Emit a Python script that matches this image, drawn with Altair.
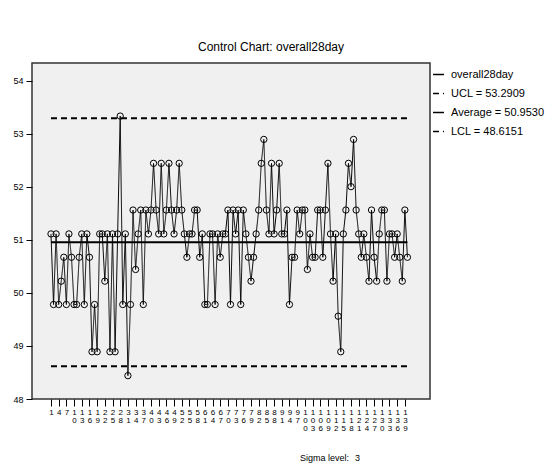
import altair as alt
import pandas as pd

# ---- data ----
values = [
    51.11, 49.78, 51.11, 49.78, 50.22, 50.67, 49.78, 51.11, 50.67, 49.78,
    49.78, 50.67, 51.11, 49.78, 51.11, 50.67, 48.89, 49.78, 48.89, 51.11,
    51.11, 50.22, 51.11, 48.89, 51.11, 48.89, 51.11, 53.33, 49.78, 51.11,
    48.44, 49.78, 51.56, 50.44, 51.11, 51.56, 49.78, 51.56, 51.11, 51.56,
    52.44, 51.56, 51.11, 52.44, 51.11, 51.56, 52.44, 51.56, 51.11, 51.56,
    52.44, 51.56, 51.11, 50.67, 51.11, 51.11, 51.56, 51.56, 50.67, 51.11,
    49.78, 49.78, 51.11, 51.11, 49.78, 51.11, 50.67, 51.11, 51.11, 51.56,
    49.78, 51.56, 51.11, 51.56, 49.78, 51.56, 51.11, 50.67, 50.22, 50.67,
    51.11, 51.56, 52.44, 52.89, 51.56, 51.11, 52.44, 51.11, 51.56, 52.44,
    51.11, 51.11, 51.56, 49.78, 50.67, 50.67, 51.56, 51.11, 51.56, 51.56,
    50.44, 51.11, 50.67, 50.67, 51.56, 51.56, 50.67, 51.56, 52.44, 51.11,
    50.22, 51.11, 49.56, 48.89, 51.11, 51.56, 52.44, 52.00, 52.89, 51.56,
    51.11, 50.67, 51.11, 50.67, 50.22, 51.56, 50.67, 50.22, 51.11, 51.56,
    51.56, 50.22, 51.11, 51.11, 50.67, 51.11, 50.67, 50.22, 51.56, 50.67,
]
index = list(range(1, len(values) + 1))
series_name = "overall28day"
ucl = 53.2909
avg = 50.9530
lcl = 48.6151
limit_labels = ["UCL = 53.2909", "Average = 50.9530", "LCL = 48.6151"]
limit_values = [ucl, avg, lcl]
x_tick_values = list(range(1, 140, 3))
y_tick_values = list(range(48, 55))
title_text = "Control Chart: overall28day"
sigma_label = "Sigma level:"
sigma_value = "3"

FONT = "Liberation Sans"

df = pd.DataFrame({"idx": index, "value": values, "series": series_name})
limits = pd.DataFrame({
    "idx": [index[0], index[-1]] * len(limit_values),
    "value": [v for v in limit_values for _ in range(2)],
    "series": [lab for lab in limit_labels for _ in range(2)],
})
domain_order = [series_name] + limit_labels
dash_range = [[1, 0], [6, 4], [1, 0], [6, 4]]

x_enc = alt.X(
    "idx:Q",
    scale=alt.Scale(domain=[-6.4, 148.8], nice=False, zero=False),
    axis=alt.Axis(
        values=x_tick_values, title=None, grid=False, domain=False,
        tickSize=7, tickColor="black", format="d",
        labelExpr="split(datum.label, '')", labelFontSize=8,
        labelLineHeight=8, labelPadding=2, labelFont=FONT,
        labelColor="black", labelAngle=0, labelOverlap=False,
        labelBound=False, labelFlush=False,
    ),
)
y_enc = alt.Y(
    "value:Q",
    scale=alt.Scale(domain=[48, 54.33], nice=False, zero=False),
    axis=alt.Axis(
        values=y_tick_values, title=None, grid=False, domain=False,
        tickSize=6, tickColor="black", labelFontSize=9, labelPadding=3,
        labelFont=FONT, labelColor="black", format="d",
        labelOverlap=False,
    ),
)
dash_enc = alt.StrokeDash(
    "series:N",
    scale=alt.Scale(domain=domain_order, range=dash_range),
    legend=alt.Legend(
        title=None, orient="none", legendX=400, legendY=5,
        symbolType="stroke", symbolStrokeColor="black",
        symbolStrokeWidth=1.5, symbolSize=120,
        labelFont=FONT, labelFontSize=11, labelColor="black",
        rowPadding=7, labelOffset=6,
    ),
)

limit_lines = alt.Chart(limits).mark_line(color="black", strokeWidth=2).encode(
    x=x_enc, y=y_enc, strokeDash=dash_enc, detail="series:N"
)
data_line = alt.Chart(df).mark_line(color="black", strokeWidth=1).encode(
    x=x_enc, y=y_enc, strokeDash=dash_enc
)
data_pts = alt.Chart(df).mark_point(
    shape="circle", filled=False, color="black", size=40, strokeWidth=1, opacity=1
).encode(x=x_enc, y=y_enc)

title_layer = alt.Chart(pd.DataFrame({"t": [title_text]})).mark_text(
    font=FONT, fontSize=12, color="black", align="center", baseline="middle"
).encode(text="t:N", x=alt.value(239), y=alt.value(-16))
sigma_layer = alt.Chart(pd.DataFrame({"t": [sigma_label]})).mark_text(
    font=FONT, fontSize=9, color="black", align="left", baseline="middle"
).encode(text="t:N", x=alt.value(268), y=alt.value(395))
sigma_val_layer = alt.Chart(pd.DataFrame({"t": [sigma_value]})).mark_text(
    font=FONT, fontSize=9, color="black", align="left", baseline="middle"
).encode(text="t:N", x=alt.value(323), y=alt.value(395))

chart = alt.layer(
    limit_lines, data_line, data_pts, title_layer, sigma_layer, sigma_val_layer
).properties(
    width=398, height=336,
    autosize="none",
    padding={"left": 24, "top": 55, "right": 122, "bottom": 65},
    background="white",
).configure_view(
    fill="#f0f0f0", stroke="#333333", strokeWidth=1.5
).configure_axis(
    labelOverlap=False
)

chart.save("out.html", embed_options={"renderer": "svg", "actions": False})
